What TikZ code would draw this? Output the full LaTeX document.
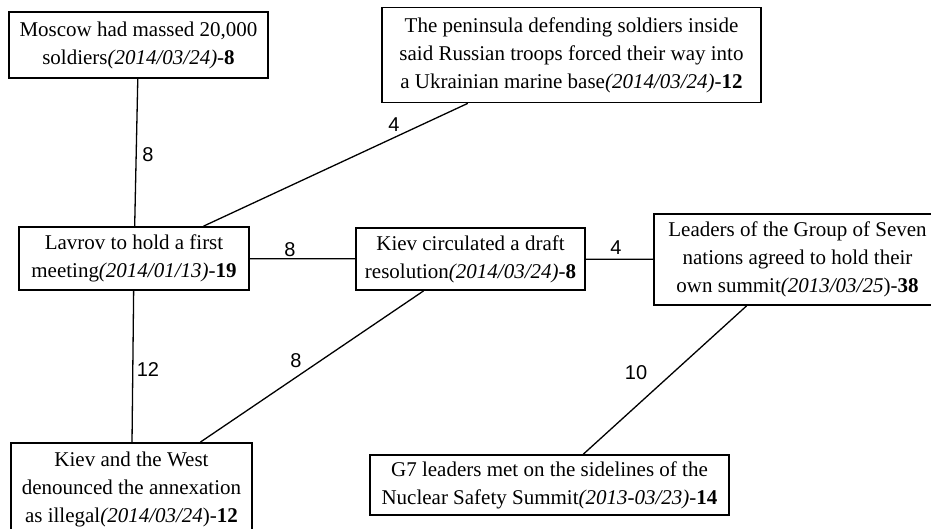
\documentclass[tikz,border=0pt]{standalone}
\usepackage{fontspec}
\setmainfont{Liberation Serif}
\newfontfamily\labelfont{Liberation Sans}
\begin{document}
\begin{tikzpicture}[x=1pt,y=-1pt,
  evt/.style={draw,line width=1.7pt,inner sep=0pt,align=center,font=\fontsize{21}{28}\selectfont},
  lnk/.style={line width=1.3pt},
  wt/.style={font=\labelfont\fontsize{20}{20}\selectfont,inner sep=0pt}]
\useasboundingbox (0,0) rectangle (931,529);
\fill[white] (0,0) rectangle (931,529);
\clip (0,0) rectangle (931,529);
\node[evt,minimum width=259pt,minimum height=66pt] (mos) at (138.5,45)
  {Moscow had massed 20,000\\soldiers\textit{(2014/03/24)}-\textbf{8}};
\node[evt,minimum width=379pt,minimum height=95pt] (pen) at (571.5,55)
  {The peninsula defending soldiers inside\\said Russian troops forced their way into\\a Ukrainian marine base\textit{(2014/03/24)}-\textbf{12}};
\node[evt,minimum width=230pt,minimum height=63pt] (lav) at (134,258.5)
  {Lavrov to hold a first\\meeting\textit{(2014/01/13)}-\textbf{19}};
\node[evt,minimum width=229pt,minimum height=62pt] (kdr) at (470.5,259)
  {Kiev circulated a draft\\resolution\textit{(2014/03/24)}-\textbf{8}};
\node[evt,minimum width=287pt,minimum height=91pt] (gsv) at (797.5,259.5)
  {Leaders of the Group of Seven\\nations agreed to hold their\\own summit\textit{(2013/03/25}){-}\textbf{38}};
\node[evt,minimum width=241pt,minimum height=92pt] (kwe) at (131.5,489)
  {Kiev and the West\\denounced the annexation\\as illegal\textit{(2014/03/24})-\textbf{12}};
\node[evt,minimum width=359pt,minimum height=60pt] (gmt) at (549.5,485)
  {G7 leaders met on the sidelines of the\\Nuclear Safety Summit\textit{(2013-03/23)}-\textbf{14}};
\draw[lnk] (mos) -- (lav);
\draw[lnk] (pen) -- (lav);
\draw[lnk] (lav) -- (kdr);
\draw[lnk] (kdr) -- (gsv);
\draw[lnk] (lav) -- (kwe);
\draw[lnk] (kdr) -- (kwe);
\draw[lnk] (gsv) -- (gmt);
\node[wt] (w1) at (148,155) {8};
\node[wt] (w2) at (394,125) {4};
\node[wt] (w3) at (290,250) {8};
\node[wt] (w4) at (616,248) {4};
\node[wt] (w5) at (148,370) {12};
\node[wt] (w6) at (296,361) {8};
\node[wt] (w7) at (636,373) {10};
\end{tikzpicture}
\end{document}
